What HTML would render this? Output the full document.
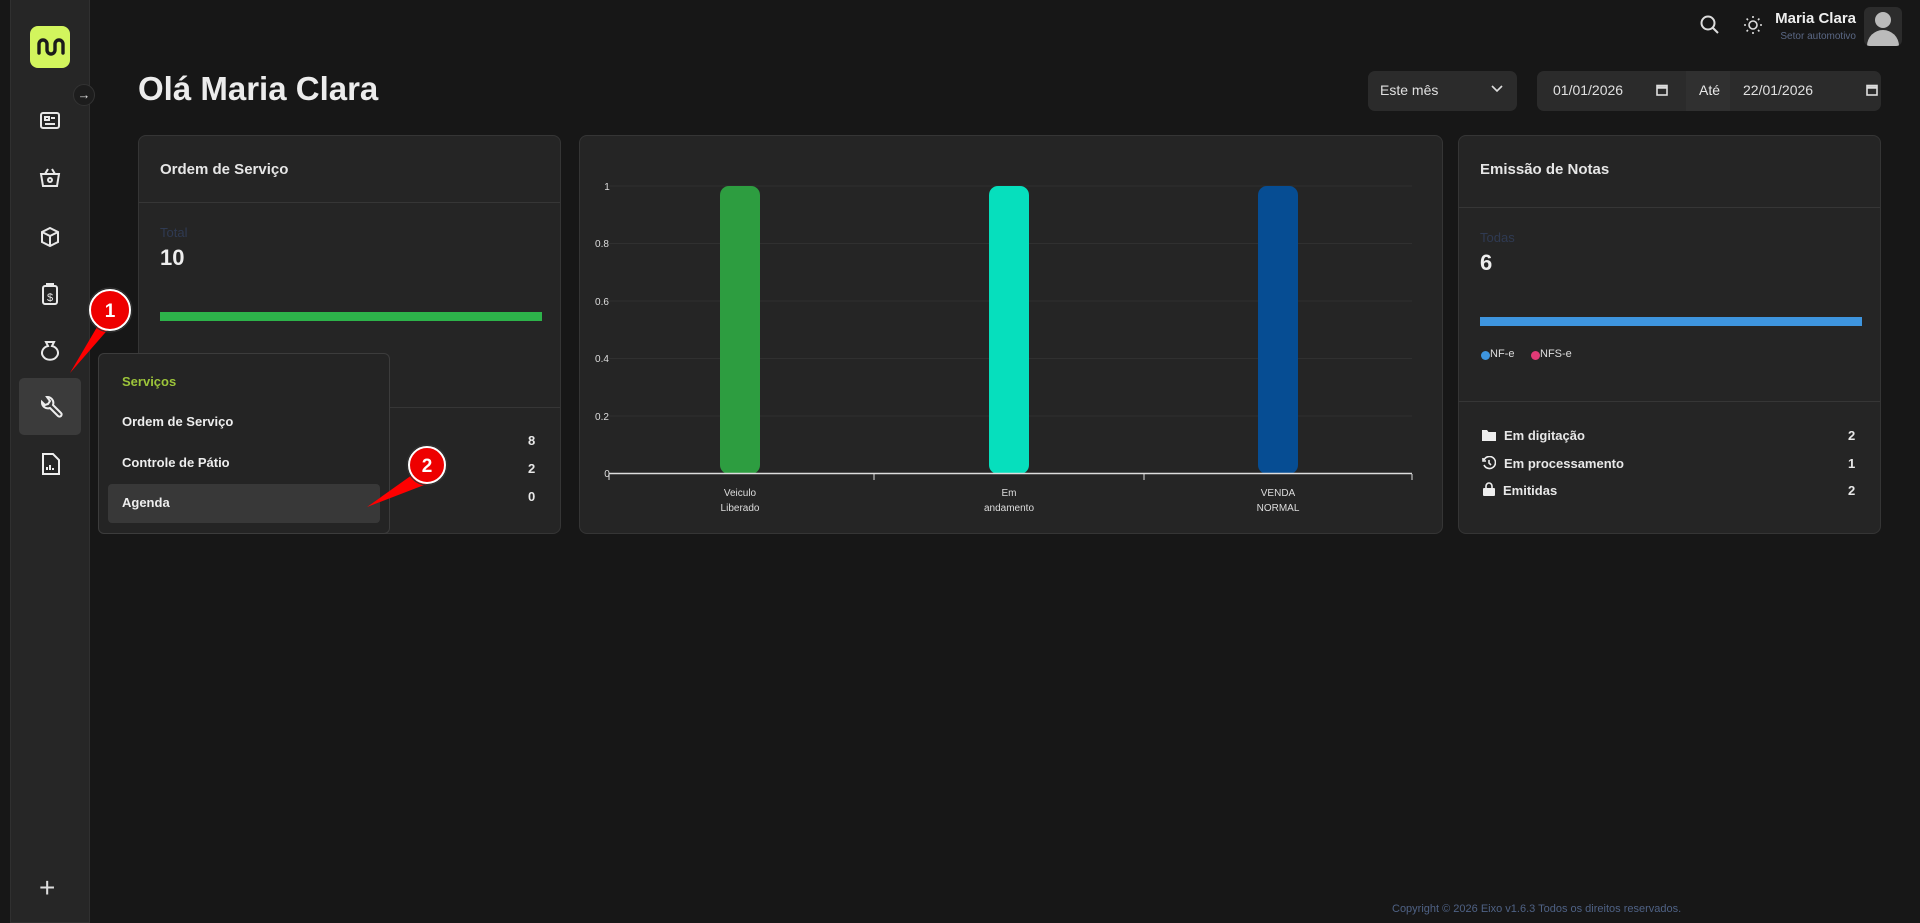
<!DOCTYPE html>
<html><head><meta charset="utf-8"><style>
*{margin:0;padding:0;box-sizing:border-box}
body{width:1920px;height:923px;background:#171717;font-family:"Liberation Sans",sans-serif;color:#e8e8e8;position:relative;overflow:hidden}
.a{position:absolute}
.card{position:absolute;background:#252525;border:1px solid #353535;border-radius:8px}
.hr{position:absolute;left:0;right:0;height:1px;background:#363636}
.t{position:absolute;white-space:nowrap}
</style></head><body>
<!-- sidebar -->
<div class="a" style="left:10px;top:0;width:80px;height:923px;background:#262626;border:1px solid #303030;border-top:none;border-radius:0 0 0 0"></div>
<div class="a" style="left:30px;top:26px;width:40px;height:42px;background:#d2f55d;border-radius:8px"></div>
<svg class="a" style="left:30px;top:26px" width="40" height="42"><path d="M9 27 V18 a4 4 0 0 1 8 0 V24 a4 4 0 0 0 8 0 V18 a4 4 0 0 1 8 0 V27" fill="none" stroke="#1b1b1b" stroke-width="3.4" stroke-linecap="round"/></svg>
<div class="a" style="left:73px;top:84px;width:22px;height:22px;border-radius:50%;background:#1d1d1d;border:1px solid #333;color:#ddd;font-size:13px;text-align:center;line-height:20px">→</div>
<svg class="a" style="left:0;top:0" width="100" height="923" fill="none" stroke="#e8e8e8" stroke-width="2">
<rect x="41" y="113" width="18" height="15" rx="2"/><line x1="45" y1="124" x2="55" y2="124"/><rect x="45" y="117" width="4" height="3"/><line x1="51" y1="118" x2="55" y2="118"/>
<path d="M41 174 h18 l-2 12 h-14 z"/><path d="M45 174 l3 -5 M55 174 l-3 -5"/><circle cx="50" cy="180" r="2"/>
<path d="M50 228 l8 4 v10 l-8 4 l-8 -4 v-10 z M42 232 l8 4 l8 -4 M50 236 v10"/>
<rect x="43" y="286" width="14" height="18" rx="2"/><path d="M47 286 v-2 h6 v2"/><text x="50" y="301" font-size="11" fill="#e8e8e8" stroke="none" text-anchor="middle">$</text>
<path d="M46 342 h8 l-2 4 a8 7 0 1 1 -4 0 z"/>
<path d="M46 884 h0"/>
</svg>
<div class="a" style="left:19px;top:378px;width:62px;height:57px;background:#3b3b3b;border-radius:5px"></div>
<svg class="a" style="left:38px;top:394px" width="26" height="26" fill="none" stroke="#eee" stroke-width="2"><path d="M4 8 a6 6 0 0 0 8 6 l8 8 a2 2 0 0 0 3 -3 l-8 -8 a6 6 0 0 0 -6 -8 l3 4 l-2 3 l-3 1 z"/></svg>
<svg class="a" style="left:40px;top:452px" width="22" height="24" fill="none" stroke="#eee" stroke-width="2"><path d="M3 2 h10 l6 6 v14 h-16 z"/><path d="M7 18 v-3 M10 18 v-5 M13 18 v-2"/></svg>
<div class="t" style="left:39px;top:872px;font-size:28px;color:#ddd;font-weight:300">+</div>
<!-- header -->
<svg class="a" style="left:1699px;top:14px" width="22" height="22" fill="none" stroke="#ddd" stroke-width="2"><circle cx="9" cy="9" r="6.5"/><line x1="14" y1="14" x2="19" y2="19"/></svg>
<svg class="a" style="left:1743px;top:15px" width="20" height="20" fill="none" stroke="#ddd" stroke-width="1.6"><circle cx="10" cy="10" r="4"/><path d="M10 1v2M10 17v2M1 10h2M17 10h2M3.6 3.6l1.4 1.4M15 15l1.4 1.4M3.6 16.4l1.4-1.4M15 5l1.4-1.4" stroke-dasharray="2 0"/></svg>
<div class="t" style="right:64px;top:10px;font-size:15px;font-weight:bold;color:#eee">Maria Clara</div>
<div class="t" style="right:64px;top:31px;font-size:10px;color:#5b6885">Setor automotivo</div>
<div class="a" style="left:1864px;top:7px;width:38px;height:39px;background:#2c2c2c;border-radius:6px;overflow:hidden">
<div class="a" style="left:11px;top:5px;width:16px;height:16px;border-radius:50%;background:#bbb"></div>
<div class="a" style="left:3px;top:23px;width:32px;height:22px;border-radius:16px 16px 2px 2px;background:#bbb"></div></div>
<div class="t" style="left:138px;top:70px;font-size:33px;font-weight:bold;color:#ececec">Olá Maria Clara</div>
<div class="a" style="left:1368px;top:71px;width:149px;height:40px;background:#2b2b2b;border-radius:7px"></div>
<div class="t" style="left:1380px;top:82px;font-size:14px;color:#e0e0e0">Este mês</div>
<svg class="a" style="left:1490px;top:84px" width="14" height="10" fill="none" stroke="#ddd" stroke-width="1.6"><path d="M2 2l5 5l5-5"/></svg>
<div class="a" style="left:1537px;top:71px;width:344px;height:40px;background:#2b2b2b;border-radius:7px;overflow:hidden"><div class="a" style="left:149px;top:0;width:44px;height:40px;background:#303030"></div></div>
<div class="t" style="left:1553px;top:82px;font-size:14px;color:#e0e0e0">01/01/2026</div>
<div class="t" style="left:1699px;top:82px;font-size:14px;color:#e8e8e8">Até</div>
<div class="t" style="left:1743px;top:82px;font-size:14px;color:#e0e0e0">22/01/2026</div>
<svg class="a" style="left:1656px;top:84px" width="12" height="12" fill="none" stroke="#ddd" stroke-width="1.6"><rect x="1" y="1.5" width="10" height="9.5"/><line x1="1" y1="3.5" x2="11" y2="3.5" stroke-width="2.5"/></svg>
<svg class="a" style="left:1866px;top:84px" width="12" height="12" fill="none" stroke="#ddd" stroke-width="1.6"><rect x="1" y="1.5" width="10" height="9.5"/><line x1="1" y1="3.5" x2="11" y2="3.5" stroke-width="2.5"/></svg>
<!-- card1 -->
<div class="card" style="left:138px;top:135px;width:423px;height:399px">
<div class="t" style="left:21px;top:25px;font-size:15px;font-weight:bold;color:#e6e6e6">Ordem de Serviço</div>
<div class="hr" style="top:66px"></div>
<div class="t" style="left:21px;top:89px;font-size:13px;color:#2f3a52">Total</div>
<div class="t" style="left:21px;top:109px;font-size:22px;font-weight:bold;color:#eee">10</div>
<div class="a" style="left:21px;top:176px;width:382px;height:9px;background:#2db34a"></div>
<div class="hr" style="top:271px"></div>
<div class="t" style="left:389px;top:297px;font-size:13px;font-weight:bold">8</div>
<div class="t" style="left:389px;top:325px;font-size:13px;font-weight:bold">2</div>
<div class="t" style="left:389px;top:353px;font-size:13px;font-weight:bold">0</div>
</div>
<!-- chart card -->
<div class="card" style="left:579px;top:135px;width:864px;height:399px"></div>
<svg class="a" style="left:0;top:0" width="1920" height="923">
<g stroke="#303030" stroke-width="1"><line x1="609" y1="186" x2="1412" y2="186"/><line x1="609" y1="243.5" x2="1412" y2="243.5"/><line x1="609" y1="301" x2="1412" y2="301"/><line x1="609" y1="358.5" x2="1412" y2="358.5"/><line x1="609" y1="416" x2="1412" y2="416"/></g>
<g font-family="Liberation Sans" font-size="10" fill="#ddd" text-anchor="middle"><text x="607" y="190">1</text><text x="602" y="247">0.8</text><text x="602" y="305">0.6</text><text x="602" y="362">0.4</text><text x="602" y="420">0.2</text><text x="607" y="477">0</text>
<text x="740" y="496">Veiculo</text><text x="740" y="511">Liberado</text><text x="1009" y="496">Em</text><text x="1009" y="511">andamento</text><text x="1278" y="496">VENDA</text><text x="1278" y="511">NORMAL</text></g>
<rect x="720" y="186" width="40" height="288" rx="9" fill="#2d9d40"/>
<rect x="989" y="186" width="40" height="288" rx="9" fill="#06dfbd"/>
<rect x="1258" y="186" width="40" height="288" rx="9" fill="#064d93"/>
<g stroke="#ddd" stroke-width="1"><line x1="609" y1="473.5" x2="1412" y2="473.5" stroke-width="1.5"/><line x1="874" y1="474" x2="874" y2="480"/><line x1="1144" y1="474" x2="1144" y2="480"/><line x1="1412" y1="474" x2="1412" y2="480"/><line x1="609" y1="474" x2="609" y2="480"/></g>
</svg>
<!-- card3 -->
<div class="card" style="left:1458px;top:135px;width:423px;height:399px">
<div class="t" style="left:21px;top:25px;font-size:15px;font-weight:bold;color:#e6e6e6">Emissão de Notas</div>
<div class="hr" style="top:71px"></div>
<div class="t" style="left:21px;top:94px;font-size:13px;color:#2f3a52">Todas</div>
<div class="t" style="left:21px;top:114px;font-size:22px;font-weight:bold;color:#eee">6</div>
<div class="a" style="left:21px;top:181px;width:382px;height:9px;background:#3e95de"></div>
<div class="a" style="left:22px;top:215px;width:9px;height:9px;border-radius:50%;background:#3e95de"></div>
<div class="t" style="left:31px;top:212px;font-size:11px;color:#ddd">NF-e</div>
<div class="a" style="left:72px;top:215px;width:9px;height:9px;border-radius:50%;background:#e03a76"></div>
<div class="t" style="left:81px;top:212px;font-size:11px;color:#ddd">NFS-e</div>
<div class="hr" style="top:265px"></div>
<svg class="a" style="left:23px;top:293px" width="14" height="12"><path d="M0 1h5l1.5 2H14v9H0z" fill="#eee"/></svg>
<div class="t" style="left:45px;top:292px;font-size:13px;font-weight:bold">Em digitação</div>
<svg class="a" style="left:23px;top:320px" width="14" height="14" fill="none" stroke="#eee" stroke-width="1.6"><path d="M2 4 A6 6 0 1 1 2 9"/><path d="M1 2v3h3"/><path d="M7 4v3l2 2"/></svg>
<div class="t" style="left:45px;top:320px;font-size:13px;font-weight:bold">Em processamento</div>
<svg class="a" style="left:24px;top:346px" width="12" height="14"><path d="M3 6V4a3 3 0 0 1 6 0v2" fill="none" stroke="#eee" stroke-width="1.6"/><rect x="0" y="6" width="12" height="8" rx="1" fill="#eee"/></svg>
<div class="t" style="left:44px;top:347px;font-size:13px;font-weight:bold">Emitidas</div>
<div class="t" style="left:389px;top:292px;font-size:13px;font-weight:bold">2</div>
<div class="t" style="left:389px;top:320px;font-size:13px;font-weight:bold">1</div>
<div class="t" style="left:389px;top:347px;font-size:13px;font-weight:bold">2</div>
</div>
<!-- popup -->
<div class="a" style="left:98px;top:353px;width:292px;height:181px;background:#242424;border:1px solid #3c3c3c;border-radius:6px"></div>
<div class="t" style="left:122px;top:374px;font-size:13px;font-weight:bold;color:#9cc43a">Serviços</div>
<div class="t" style="left:122px;top:414px;font-size:13px;font-weight:bold;color:#eee">Ordem de Serviço</div>
<div class="t" style="left:122px;top:455px;font-size:13px;font-weight:bold;color:#eee">Controle de Pátio</div>
<div class="a" style="left:108px;top:484px;width:272px;height:39px;background:#383838;border-radius:4px"></div>
<div class="t" style="left:122px;top:495px;font-size:13px;font-weight:bold;color:#eee">Agenda</div>
<!-- annotations -->
<svg class="a" style="left:0;top:0" width="1920" height="923">
<polygon points="100,322 118,318 70,373" fill="#f00"/>
<circle cx="110" cy="310" r="20" fill="#e00" stroke="#fff" stroke-width="2"/><circle cx="110" cy="310" r="22" fill="none" stroke="#333" stroke-width="1"/>
<text x="110" y="317" font-family="Liberation Sans" font-weight="bold" font-size="19" fill="#fff" text-anchor="middle">1</text>
<polygon points="412,475 432,482 367,507" fill="#f00"/>
<circle cx="427" cy="465" r="18" fill="#e00" stroke="#fff" stroke-width="2"/><circle cx="427" cy="465" r="20" fill="none" stroke="#333" stroke-width="1"/>
<text x="427" y="472" font-family="Liberation Sans" font-weight="bold" font-size="19" fill="#fff" text-anchor="middle">2</text>
</svg>
<div class="t" style="left:1392px;top:903px;font-size:11px;color:#4f6285">Copyright © 2026 Eixo v1.6.3 Todos os direitos reservados.</div>
</body></html>
